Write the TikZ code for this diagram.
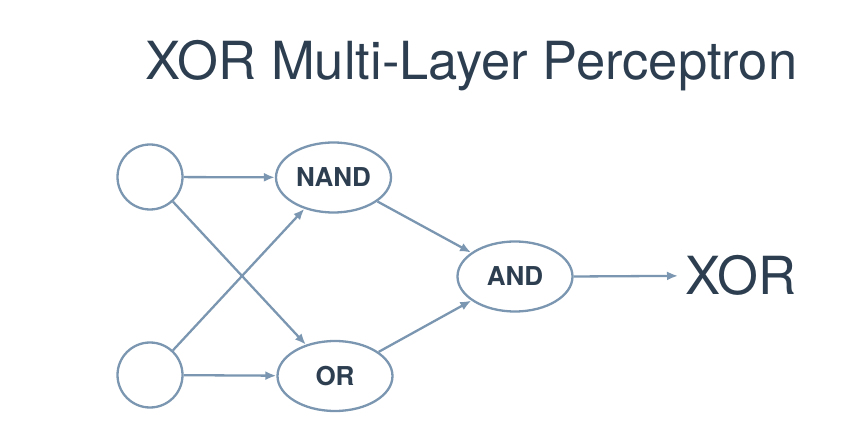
\documentclass[tikz,border=0pt]{standalone}
\usepackage{fontspec}
\setmainfont{TeX Gyre Heros}
\usepackage{xcolor}
\definecolor{edgeblue}{RGB}{122,150,176}
\definecolor{inkslate}{RGB}{44,62,80}
\usepackage{tikz}
\usetikzlibrary{shapes.geometric}
\usetikzlibrary{arrows.meta}
\tikzset{
    common/.style={draw=edgeblue, line width=2.3pt, fill=white, text=inkslate},
    input/.style={common, circle, minimum size=65pt, inner sep=0pt},
    gate/.style={common, ellipse, minimum width=115pt, minimum height=70pt, inner sep=0pt,
        font=\fontsize{26}{30}\selectfont\bfseries},
    bigtext/.style={inner sep=0pt, text=inkslate, font=\fontsize{52.5}{62}\selectfont},
    link/.style={->, line width=2.3pt, edgeblue}
}
\begin{document}
\begin{tikzpicture}[x=1pt, y=1pt, >={Latex[length=11pt,width=9pt]}]
    \useasboundingbox (0,0) rectangle (848,439);
    \node[bigtext, anchor=base west] (title) at (145,359.7) {XOR Multi-Layer Perceptron};

    \node[input] (in1) at (150,262) {};
    \node[input] (in2) at (150,64) {};
    \node[gate] (nand) at (333.5,261.5) {NAND};
    \node[gate] (or) at (335,63) {OR};
    \node[gate] (and) at (515,162.5) {AND};
    \node[bigtext, anchor=base west, inner xsep=7pt] (xor) at (678,144) {XOR};

    \draw[link] (in1) edge (nand) (in1) edge (or) (in2) edge (nand) (in2) edge (or);
    \draw[link] (nand) edge (and) (or) edge (and);
    \draw[link] (and.east) -- (xor.west);
\end{tikzpicture}
\end{document}
